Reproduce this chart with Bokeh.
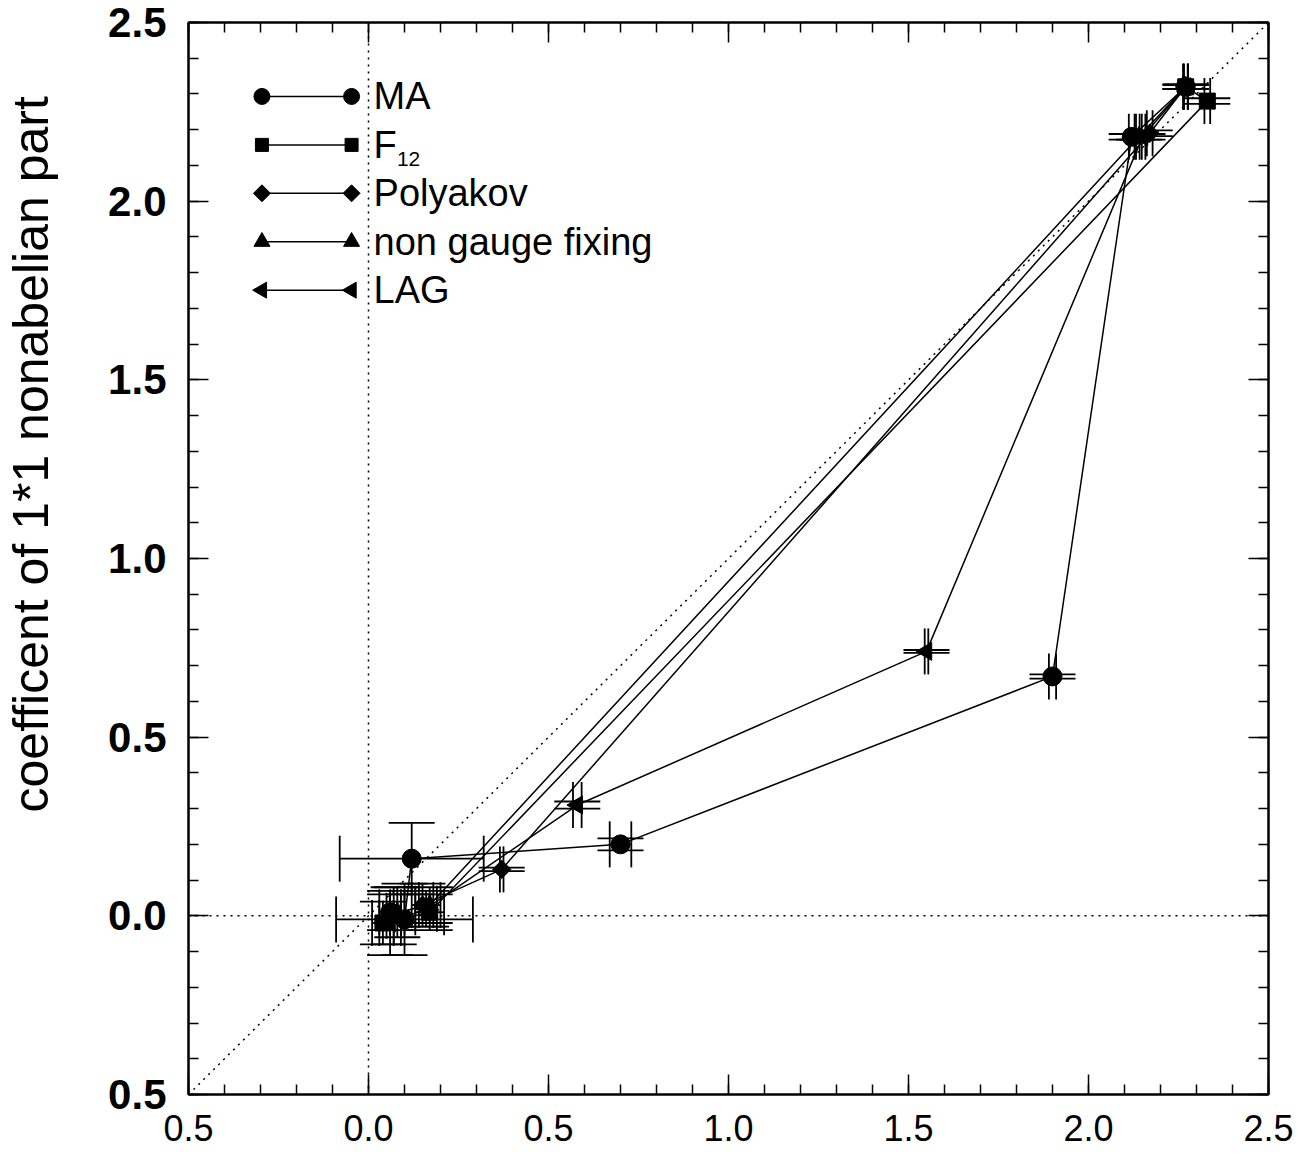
import numpy as np
from bokeh.plotting import figure
from bokeh.models import (ColumnDataSource, Whisker, TeeHead, Span, Slope, LinearAxis,
                          FixedTicker, Range1d)
from bokeh.core.properties import value
from bokeh.embed import file_html
from bokeh.resources import INLINE

# ---------------- data ----------------
tick_vals = [-0.5, 0.0, 0.5, 1.0, 1.5, 2.0, 2.5]
tick_labels = ["0.5", "0.0", "0.5", "1.0", "1.5", "2.0", "2.5"]

ma_x = [0.06, 0.10, 0.12, 0.70, 1.90, 2.12, 2.27]
ma_y = [0.01, -0.01, 0.16, 0.20, 0.67, 2.18, 2.32]
ma_dx = [0.03, 0.19, 0.20, 0.03, 0.010, 0.008, 0.006]
ma_dy = [0.05, 0.10, 0.10, 0.017, 0.006, 0.008, 0.006]

f12_x = [0.04, 0.17, 2.33, 2.27]
f12_y = [-0.02, 0.01, 2.28, 2.32]
f12_dx = [0.03, 0.04, 0.008, 0.006]
f12_dy = [0.06, 0.05, 0.008, 0.006]

pol_x = [0.07, 0.15, 0.37, 2.17, 2.27]
pol_y = [0.00, 0.03, 0.13, 2.19, 2.32]
pol_dx = [0.02, 0.03, 0.005, 0.008, 0.006]
pol_dy = [0.08, 0.06, 0.005, 0.008, 0.006]

ngf_x = [0.08, 0.17, 2.14, 2.27]
ngf_y = [0.01, 0.03, 2.18, 2.32]
ngf_dx = [0.02, 0.03, 0.008, 0.006]
ngf_dy = [0.07, 0.05, 0.008, 0.006]

lag_x = [0.06, 0.16, 0.58, 1.55, 2.15, 2.27]
lag_y = [-0.02, 0.02, 0.31, 0.74, 2.18, 2.32]
lag_dx = [0.03, 0.03, 0.012, 0.005, 0.008, 0.006]
lag_dy = [0.09, 0.05, 0.010, 0.004, 0.008, 0.006]

legend_labels = ["MA", "F", "Polyakov", "non gauge fixing", "LAG"]
y_title = "coefficent of 1*1 nonabelian part"

FONT = "Liberation Sans"

p = figure(frame_width=1080, frame_height=1072,
           x_range=Range1d(-0.5, 2.5), y_range=Range1d(-0.5, 2.5),
           output_backend="svg", toolbar_location=None,
           min_border_left=188, min_border_right=37, min_border_top=22, min_border_bottom=61,
           background_fill_color="white", border_fill_color="white",
           outline_line_color="black", outline_line_width=2)
p.xgrid.visible = False
p.ygrid.visible = False

minor = [round(v, 2) for v in np.arange(-0.5, 2.501, 0.1)]
overrides = {v: s for v, s in zip(tick_vals, tick_labels)}


def style_axis(ax, show_labels, font_size="38px", bold=False):
    ax.ticker = FixedTicker(ticks=tick_vals, minor_ticks=minor)
    ax.major_label_overrides = dict(overrides)
    ax.axis_line_color = "black"
    ax.axis_line_width = 2
    ax.major_tick_in = 20
    ax.major_tick_out = 0
    ax.minor_tick_in = 10
    ax.minor_tick_out = 0
    ax.major_tick_line_width = 1.5
    ax.minor_tick_line_width = 1.5
    ax.major_tick_line_color = "black"
    ax.minor_tick_line_color = "black"
    if show_labels:
        ax.major_label_text_font = FONT
        ax.major_label_text_font_size = font_size
        ax.major_label_text_color = "black"
        ax.major_label_text_font_style = "bold" if bold else "normal"
    else:
        ax.major_label_text_font_size = "1px"
        ax.major_label_text_color = None
        ax.major_label_standoff = 0


style_axis(p.xaxis[0], True, "36px")
p.xaxis[0].major_label_standoff = 20
style_axis(p.yaxis[0], True, "42px", bold=True)
p.yaxis[0].major_label_standoff = 22

# y axis title (leading no-break spaces lift the visible text above the frame centre)
yax = p.yaxis[0]
yax.axis_label = "\u00a0" * 15 + y_title
yax.axis_label_text_font = FONT
yax.axis_label_text_font_size = "50px"
yax.axis_label_text_font_style = "normal"
yax.axis_label_text_color = "black"
yax.axis_label_standoff = 46

top = LinearAxis()
style_axis(top, False)
p.add_layout(top, "above")
right = LinearAxis()
style_axis(right, False)
p.add_layout(right, "right")

# reference dotted lines
for span in (Span(location=0, dimension="height"), Span(location=0, dimension="width")):
    span.line_color = "black"
    span.line_dash = "2 5"
    span.line_width = 1.5
    p.add_layout(span)
p.add_layout(Slope(gradient=1, y_intercept=0, line_color="black", line_dash="2 5", line_width=1.5))

series = [
    ("circle", 19, 0.0, ma_x, ma_y, ma_dx, ma_dy),
    ("square", 13, np.pi / 4, pol_x, pol_y, pol_dx, pol_dy),
    ("triangle", 18, 0.0, ngf_x, ngf_y, ngf_dx, ngf_dy),
    ("triangle", 18, np.pi / 2, lag_x, lag_y, lag_dx, lag_dy),
    ("square", 16, 0.0, f12_x, f12_y, f12_dx, f12_dy),
]

CAP = 46
for marker, size, ang, xs, ys, dxs, dys in series:
    xs = np.array(xs); ys = np.array(ys); dxs = np.array(dxs); dys = np.array(dys)
    src = ColumnDataSource(dict(x=xs, y=ys, xlo=xs - dxs, xhi=xs + dxs, ylo=ys - dys, yhi=ys + dys))
    p.add_layout(Whisker(source=src, base="y", lower="xlo", upper="xhi", dimension="width",
                         line_color="black", line_width=1.8, level="glyph",
                         upper_head=TeeHead(size=CAP, line_width=1.8, line_color="black"),
                         lower_head=TeeHead(size=CAP, line_width=1.8, line_color="black")))
    p.add_layout(Whisker(source=src, base="x", lower="ylo", upper="yhi", dimension="height",
                         line_color="black", line_width=1.8, level="glyph",
                         upper_head=TeeHead(size=CAP, line_width=1.8, line_color="black"),
                         lower_head=TeeHead(size=CAP, line_width=1.8, line_color="black")))
    p.line(x="x", y="y", source=src, line_color="black", line_width=1.5)
    p.scatter(x="x", y="y", source=src, marker=marker, size=size, angle=ang,
              fill_color="black", line_color="black")

# ---------------- legend (drawn by hand) ----------------
leg_markers = [("circle", 16, 0.0), ("square", 13, 0.0), ("square", 12, np.pi / 4),
               ("triangle", 16, 0.0), ("triangle", 16, np.pi / 2)]
lx0, lx1, ltx = -0.296, -0.047, 0.014
ly0, ldy = 2.293, 0.1355
for i, ((mk, sz, ang), lab) in enumerate(zip(leg_markers, legend_labels)):
    yy = ly0 - i * ldy
    p.line([lx0, lx1], [yy, yy], line_color="black", line_width=1.5)
    p.scatter([lx0, lx1], [yy, yy], marker=mk, size=sz, angle=ang,
              fill_color="black", line_color="black")
    p.text([ltx], [yy], text=[lab], text_font=value(FONT), text_font_size="38px",
           text_baseline="middle", text_align="left", text_color="black")
    if lab == "F":
        p.text([ltx + 0.065], [yy - 0.04], text=["12"], text_font=value(FONT),
               text_font_size="21px", text_baseline="middle", text_align="left",
               text_color="black")

open("out.html", "w").write(file_html(p, INLINE))
